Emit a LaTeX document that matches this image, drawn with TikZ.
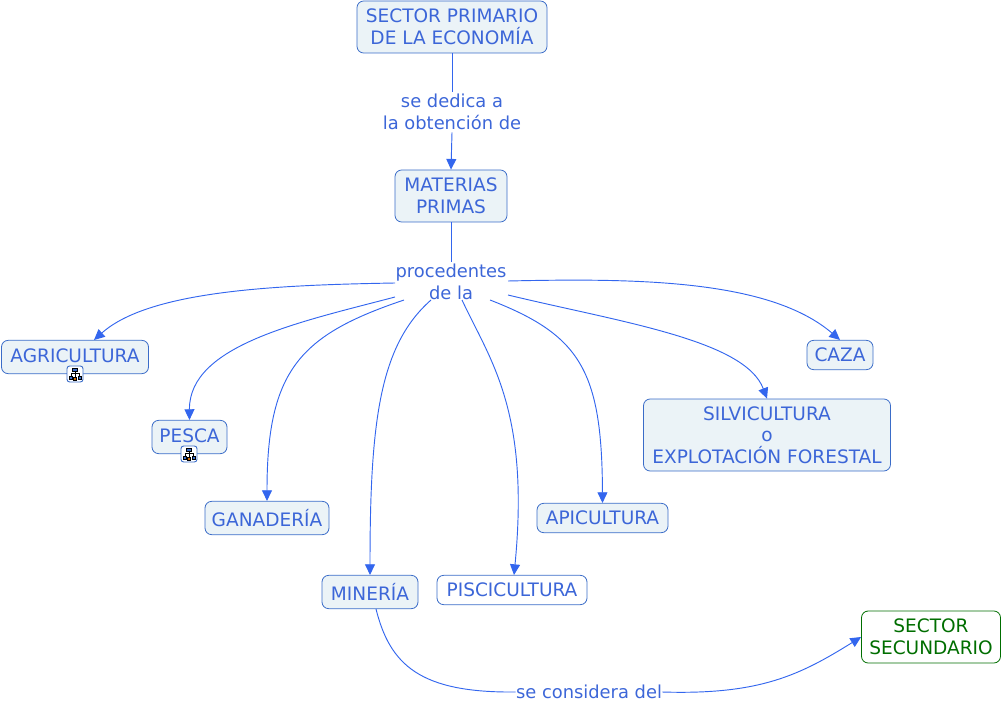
\documentclass[tikz,border=0pt]{standalone}
\usepackage{fontspec}
\setmainfont{DejaVu Sans}
\usetikzlibrary{arrows.meta}
\usepackage{xcolor}
\definecolor{mapblue}{HTML}{3C66D8}
\definecolor{edgeblue}{HTML}{3366EE}
\definecolor{boxline}{HTML}{3A6CC8}
\definecolor{boxfill}{HTML}{EBF3F7}
\definecolor{sectorgreen}{HTML}{006E00}

\begin{document}
\begin{tikzpicture}[
    x=0.75pt, y=-0.75pt,
    every node/.style={color=mapblue},
    concept/.style={fill=boxfill, draw=boxline, rounded corners=5pt, align=center,
                    inner sep=0pt, line width=0.6pt,
                    font=\fontsize{13.9pt}{16.5pt}\selectfont},
    phrase/.style={align=center, inner sep=0pt,
                   font=\fontsize{13.4pt}{16.5pt}\selectfont},
    link/.style={draw=edgeblue, line width=0.7pt},
    arrowlink/.style={link, -{Triangle[length=8pt,width=7.5pt]}},
    iconbox/.style={fill=white, draw=boxline, rounded corners=2pt, inner sep=0pt,
                    minimum width=12pt, minimum height=12pt, line width=0.7pt},
    treeicon/.pic={
      \draw[black, line width=0.4pt] (0,-3) -- (0,-1) (-4,-1) -- (4,-1) (-4,-1) -- (-4,3) (4,-1) -- (4,3) (0,-1) -- (0,3);
      \filldraw[draw=black, fill=boxline, line width=0.3pt] (-2.5,-6) rectangle (2.5,-3);
      \filldraw[draw=black, fill=boxline, line width=0.3pt] (-6,2) rectangle (-3,5);
      \filldraw[draw=black, fill=orange!80!black, line width=0.3pt] (-1.5,3) rectangle (1.5,6);
      \filldraw[draw=black, fill=boxline, line width=0.3pt] (3,2) rectangle (6,5);
    },
]
\useasboundingbox (0,0) rectangle (1002,702);

% ── Top of the map ──────────────────────────────────────────────
\node[concept, minimum width=142.5pt, minimum height=39pt] (sectorPrim) at (452,27)
  {SECTOR PRIMARIO\\DE LA ECONOMÍA};
\node[concept, minimum width=84pt, minimum height=39pt] (materias) at (451,196)
  {MATERIAS\\PRIMAS};
\node[phrase, minimum width=103.5pt, minimum height=30pt] (obtencion) at (452,112)
  {se dedica a\\la obtención de};
\node[phrase, minimum width=83.25pt, minimum height=30pt] (procedentes) at (451,282)
  {procedentes\\de la};

% ── Sources ─────────────────────────────────────────────────────
\node[concept, text depth=1.5pt, minimum width=110.25pt, minimum height=25pt] (agricultura) at (75,357) {AGRICULTURA};
\node[concept, text depth=1.5pt, minimum width=56.25pt, minimum height=25pt] (pesca) at (189.5,437) {PESCA};
\node[concept, minimum width=93pt, minimum height=25pt] (ganaderia) at (267,518) {GANADERÍA};
\node[concept, minimum width=72pt, minimum height=25pt] (mineria) at (370,592) {MINERÍA};
\node[concept, fill=white, minimum width=112.5pt, minimum height=22pt] (piscicultura) at (512,590) {PISCICULTURA};
\node[concept, minimum width=98.25pt, minimum height=22pt] (apicultura) at (602.5,518) {APICULTURA};
\node[concept, minimum width=185.25pt, minimum height=54pt] (silvicultura) at (767,435)
  {SILVICULTURA\\[-0.5pt]o\\[-0.5pt]EXPLOTACIÓN FORESTAL};
\node[concept, minimum width=49.5pt, minimum height=22pt] (caza) at (840,355) {CAZA};

% ── Icons under two of the boxes ────────────────────────────────
\node[iconbox] (agriIcon) at (75,374) {};
\pic at (agriIcon.center) {treeicon};
\node[iconbox] (pescaIcon) at (189,454) {};
\pic at (pescaIcon.center) {treeicon};

% ── Next sector ─────────────────────────────────────────────────
\node[phrase, minimum width=109.5pt, minimum height=15pt] (considera) at (589,692) {se considera del};
\node[concept, draw=sectorgreen, fill=white, text=sectorgreen, minimum width=104.25pt, minimum height=39pt]
  (sectorSec) at (931,637) {SECTOR\\SECUNDARIO};

% ── Free ends round the phrase ──────────────────────────────────
\coordinate (fromAgri) at (395,283);
\coordinate (fromPesca) at (395,297);
\coordinate (fromGana) at (404,300);
\coordinate (fromMine) at (431,300);
\coordinate (fromPisci) at (462,300);
\coordinate (fromApi) at (490,300);
\coordinate (fromSilvi) at (508,295);
\coordinate (fromCaza) at (508,281);
\coordinate (toAgri) at (94,340);
\coordinate (toPisci) at (514,575);
\coordinate (fromMineria) at (376,609);

% ── Connectors ──────────────────────────────────────────────────
\draw[link] (sectorPrim.south) -- (obtencion.north);
\draw[arrowlink] (obtencion.south) -- (materias.north);
\draw[link] (materias.south) -- (procedentes.north);

\draw[arrowlink] (fromAgri) .. controls (280,285) and (150,290) .. (toAgri);
\draw[arrowlink] (fromPesca) .. controls (300,322) and (189,345) .. (pesca.north);
\draw[arrowlink] (fromGana) .. controls (300,335) and (267,370) .. (ganaderia.north);
\draw[arrowlink] (fromMine) .. controls (380,345) and (370,420) .. (mineria.north);
\draw[arrowlink] (fromPisci) .. controls (490,360) and (530,410) .. (toPisci);
\draw[arrowlink] (fromApi) .. controls (580,335) and (602,370) .. (apicultura.north);
\draw[arrowlink] (fromSilvi) .. controls (620,322) and (745,340) .. (silvicultura.north);
\draw[arrowlink] (fromCaza) .. controls (640,278) and (770,280) .. (caza.north);

\draw[link] (fromMineria) .. controls (390,665) and (420,693) .. (considera.west);
\draw[arrowlink] (considera.east) .. controls (760,695) and (800,675) .. (sectorSec.west);

\end{tikzpicture}
\end{document}
